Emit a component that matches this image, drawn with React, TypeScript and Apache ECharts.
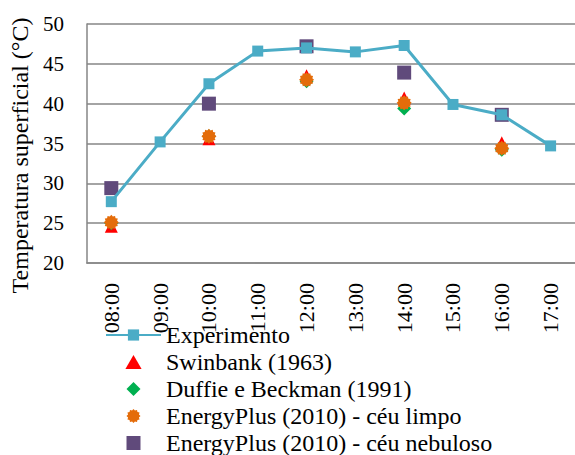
import React, { useEffect, useRef } from "react";
import * as echarts from "echarts";

const hours = ["08:00", "09:00", "10:00", "11:00", "12:00", "13:00", "14:00", "15:00", "16:00", "17:00"];
const yTicks = [20, 25, 30, 35, 40, 45, 50];
const experimento = [27.7, 35.2, 42.5, 46.6, 47.0, 46.5, 47.3, 39.9, 38.6, 34.7];
const swinbank = [24.6, null, 35.6, null, 43.5, null, 40.7, null, 35.1, null];
const duffie = [25.0, null, 35.9, null, 42.8, null, 39.4, null, 34.2, null];
const epLimpo = [25.1, null, 35.9, null, 43.0, null, 40.1, null, 34.4, null];
const epNebuloso = [29.4, null, 40.0, null, 47.2, null, 43.9, null, 38.6, null];
const seriesNames = [
  "Experimento",
  "Swinbank (1963)",
  "Duffie e Beckman (1991)",
  "EnergyPlus (2010) - céu limpo",
  "EnergyPlus (2010) - céu nebuloso",
];

function starPath(points: number, inner: number): string {
  const parts: string[] = [];
  for (let i = 0; i < points * 2; i++) {
    const r = i % 2 === 0 ? 1 : inner;
    const a = (Math.PI * i) / points - Math.PI / 2;
    const x = (r * Math.cos(a)).toFixed(3);
    const y = (r * Math.sin(a)).toFixed(3);
    parts.push((i === 0 ? "M" : "L") + x + " " + y);
  }
  return "path://" + parts.join(" ") + " Z";
}

const TRIANGLE = "path://M0 -1 L1.1 0.9 L-1.1 0.9 Z";
const DIAMOND = "path://M0 -1 L1 0 L0 1 L-1 0 Z";
const SQUARE = "path://M-1 -1 L1 -1 L1 1 L-1 1 Z";

const FONT = "Liberation Serif, serif";

export default function App() {
  const ref = useRef<HTMLDivElement>(null);
  useEffect(() => {
    if (!ref.current) return;
    const chart = echarts.init(ref.current, undefined, { renderer: "svg" });
    chart.setOption({
      animation: false,
      textStyle: { fontFamily: FONT, color: "#000" },
      grid: { left: 79, top: 24, right: -8, bottom: 232 },
      xAxis: {
        type: "category",
        data: hours,
        boundaryGap: true,
        axisLine: { show: true, lineStyle: { color: "#868686", width: 1.5 } },
        axisTick: { show: false },
        axisLabel: { rotate: 90, margin: 20, fontSize: 22, color: "#000", fontFamily: FONT },
      },
      yAxis: {
        type: "value",
        min: yTicks[0],
        max: yTicks[yTicks.length - 1],
        interval: 5,
        name: "Temperatura superficial (°C)",
        nameLocation: "middle",
        nameGap: 46,
        nameTextStyle: { fontSize: 24, color: "#000", fontFamily: FONT, padding: [0, 24, 0, 0] },
        axisLine: { show: true, lineStyle: { color: "#868686", width: 1.5 } },
        axisTick: { show: false },
        axisLabel: { margin: 23, fontSize: 21, color: "#000", fontFamily: FONT },
        splitLine: { lineStyle: { color: "#868686", width: 1.5 } },
      },
      legend: {
        orient: "vertical",
        left: 105,
        top: 323,
        padding: 0,
        itemWidth: 55,
        itemHeight: 14,
        itemGap: 3,
        textStyle: { fontSize: 24, color: "#000", fontFamily: FONT },
        data: seriesNames,
      },
      series: [
        {
          name: seriesNames[0],
          type: "line",
          data: experimento,
          symbol: SQUARE,
          symbolSize: 11,
          itemStyle: { color: "#4BACC6", opacity: 1 },
          lineStyle: { color: "#4BACC6", width: 3 },
        },
        {
          name: seriesNames[1],
          type: "scatter",
          data: swinbank,
          symbol: TRIANGLE,
          symbolSize: 13,
          itemStyle: { color: "#FF0000", opacity: 1 },
        },
        {
          name: seriesNames[2],
          type: "scatter",
          data: duffie,
          symbol: DIAMOND,
          symbolSize: 14,
          itemStyle: { color: "#00B050", opacity: 1 },
        },
        {
          name: seriesNames[3],
          type: "scatter",
          data: epLimpo,
          symbol: starPath(12, 0.8),
          symbolSize: 15,
          itemStyle: { color: "#E46C0A", opacity: 1 },
        },
        {
          name: seriesNames[4],
          type: "scatter",
          data: epNebuloso,
          symbol: SQUARE,
          symbolSize: 14,
          itemStyle: { color: "#604A7B", opacity: 1 },
        },
      ],
    });
    return () => chart.dispose();
  }, []);
  return (
    <div style={{ position: "fixed", left: 0, top: 0, width: 575, height: 455, overflow: "hidden", background: "#fff" }}>
      <div ref={ref} style={{ width: 575, height: 495 }} />
    </div>
  );
}
